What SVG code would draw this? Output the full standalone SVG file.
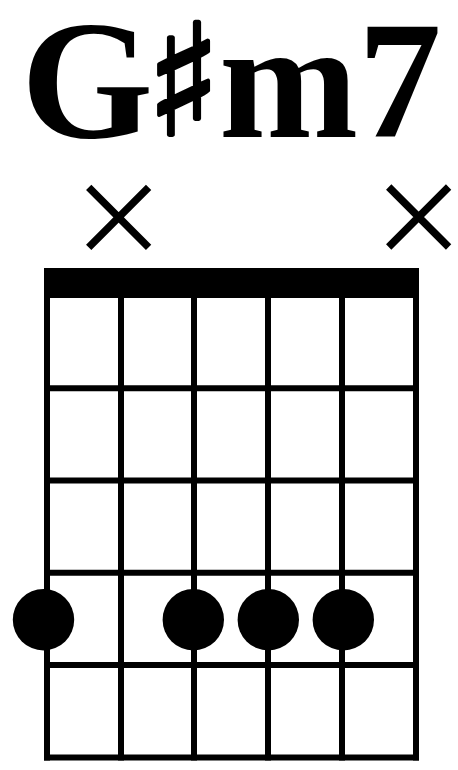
<svg xmlns="http://www.w3.org/2000/svg" width="458" height="770" viewBox="0 0 458 770">
  <style>
    .title { font-family: "Liberation Serif", "DejaVu Serif", serif; font-weight: bold; font-size: 170px; fill: #000; }
    .title2 { font-size: 167px; }
    .sharp { font-family: "DejaVu Serif", "DejaVu Sans", serif; font-weight: bold; font-size: 155px; fill: #000; stroke: #000; stroke-width: 4; stroke-linejoin: round; }
    .string, .fret { stroke: #000; stroke-width: 6; fill: none; }
    .mute { stroke: #000; stroke-width: 7.5; fill: none; }
    .dot { fill: #000; }
  </style>
  <rect width="458" height="770" fill="#fff"/>
  <g id="title">
    <text class="title" x="21" y="137">G</text>
    <text class="sharp" x="183.5" y="135" text-anchor="middle">♯</text>
    <text class="title title2" x="219" y="137">m7</text>
  </g>
  <g id="nut">
    <rect x="44" y="268" width="375" height="30" fill="#000"/>
  </g>
  <g id="grid">
    <line class="string" x1="47" y1="268" x2="47" y2="760.5"/>
    <line class="string" x1="121" y1="268" x2="121" y2="760.5"/>
    <line class="string" x1="194" y1="268" x2="194" y2="760.5"/>
    <line class="string" x1="268" y1="268" x2="268" y2="760.5"/>
    <line class="string" x1="342" y1="268" x2="342" y2="760.5"/>
    <line class="string" x1="416" y1="268" x2="416" y2="760.5"/>
    <line class="fret" x1="44" y1="388.2" x2="419" y2="388.2"/>
    <line class="fret" x1="44" y1="480.5" x2="419" y2="480.5"/>
    <line class="fret" x1="44" y1="572.8" x2="419" y2="572.8"/>
    <line class="fret" x1="44" y1="665" x2="419" y2="665"/>
    <line class="fret" x1="44" y1="757.5" x2="419" y2="757.5"/>
  </g>
  <g id="mute-1">
    <path class="mute" d="M88.7 187.3 L148.6 247.3 M148.6 187.3 L88.7 247.3"/>
  </g>
  <g id="mute-6">
    <path class="mute" d="M388.7 187 L448.6 247 M448.6 187 L388.7 247"/>
  </g>
  <g id="dot-1"><circle class="dot" cx="43.5" cy="619.7" r="30.7"/></g>
  <g id="dot-3"><circle class="dot" cx="193.3" cy="619.7" r="30.7"/></g>
  <g id="dot-4"><circle class="dot" cx="268.3" cy="619.7" r="30.7"/></g>
  <g id="dot-5"><circle class="dot" cx="343.3" cy="619.7" r="30.7"/></g>
</svg>
